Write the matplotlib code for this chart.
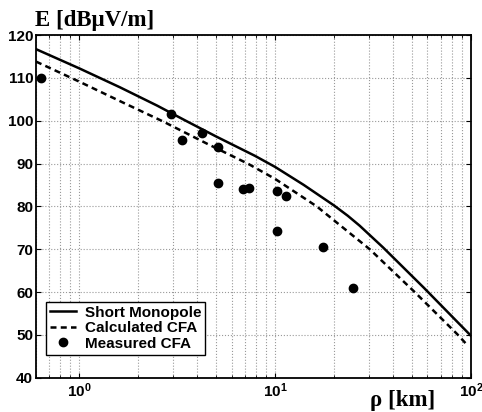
import matplotlib.pyplot as plt
import numpy as np

plt.rcParams['font.family'] = ['Liberation Sans', 'DejaVu Sans']
plt.rcParams['mathtext.fontset'] = 'custom'
plt.rcParams['mathtext.rm'] = 'Liberation Sans:bold'
plt.rcParams['mathtext.bf'] = 'Liberation Sans:bold'

# Short monopole (solid)
mono_km = [0.6, 1.0, 1.61, 2.5, 3.49, 5.0, 7.88, 10, 14, 20, 23.5, 27, 35.6, 57.5, 100]
mono_E = [116.7, 112.2, 107.8, 103.5, 100.0, 96.3, 91.8, 89.2, 85.0, 80.2, 77.8, 75.5, 70.4, 61.0, 49.8]

# Calculated CFA (dashed)
cfa_km = [0.6, 1.0, 1.64, 2.68, 4.5, 7.3, 10, 16.3, 30.4, 51.6, 85, 95]
cfa_E = [113.8, 109.1, 104.4, 99.8, 94.6, 89.9, 86.4, 80.0, 70.0, 60.0, 50.2, 47.8]

# Measured CFA (dots)
meas_km = [0.638, 2.93, 3.33, 4.21, 5.08, 5.08, 6.87, 7.34, 10.24, 11.4, 10.24, 17.5, 25.1]
meas_E = [109.9, 101.5, 95.5, 97.05, 93.9, 85.5, 84.0, 84.4, 83.5, 82.4, 74.3, 70.6, 61.0]

fig = plt.figure(figsize=(4.82, 4.12), dpi=100)
ax = fig.add_axes([0.0747, 0.0832, 0.9023, 0.8318])

ax.plot(mono_km, mono_E, '-', color='k', lw=1.8, label='Short Monopole')
ax.plot(cfa_km, cfa_E, '--', color='k', lw=1.8, dashes=(2.4, 1.7), label='Calculated CFA')
ax.plot(meas_km, meas_E, 'o', color='k', ms=6, ls='none', label='Measured CFA')

ax.set_xscale('log')
ax.set_xlim(0.6, 100)
ax.set_ylim(40, 120)
ax.set_yticks(np.arange(40, 121, 10))
ax.set_xticks([1, 10, 100])
ax.set_xticklabels([r'$\mathbf{10^{0}}$', r'$\mathbf{10^{1}}$', r'$\mathbf{10^{2}}$'])

ax.grid(True, which='major', ls=':', color='#999999', lw=0.8)
ax.grid(True, which='minor', axis='x', ls=':', color='#999999', lw=0.8)
ax.tick_params(which='both', direction='in', top=True, right=True)
ax.tick_params(axis='y', labelsize=11, pad=2)
ax.tick_params(axis='x', labelsize=11, pad=3)
for lab in ax.get_yticklabels():
    lab.set_fontweight('bold')
for s in ax.spines.values():
    s.set_linewidth(1.3)

leg = ax.legend(loc='lower left', bbox_to_anchor=(0.005, 0.045), fancybox=False,
                edgecolor='k', framealpha=1, prop={'weight': 'bold', 'size': 11},
                handlelength=1.7, handletextpad=0.6, borderpad=0.25, labelspacing=0.1)
leg.get_frame().set_linewidth(1.0)

fig.text(0.073, 0.937, 'E [dBμV/m]', family='Liberation Serif', weight='bold', fontsize=16.5)
fig.text(0.768, 0.0146, 'ρ [km]', family='Liberation Serif', weight='bold', fontsize=16.5)

fig.savefig('out.png', dpi=100)
